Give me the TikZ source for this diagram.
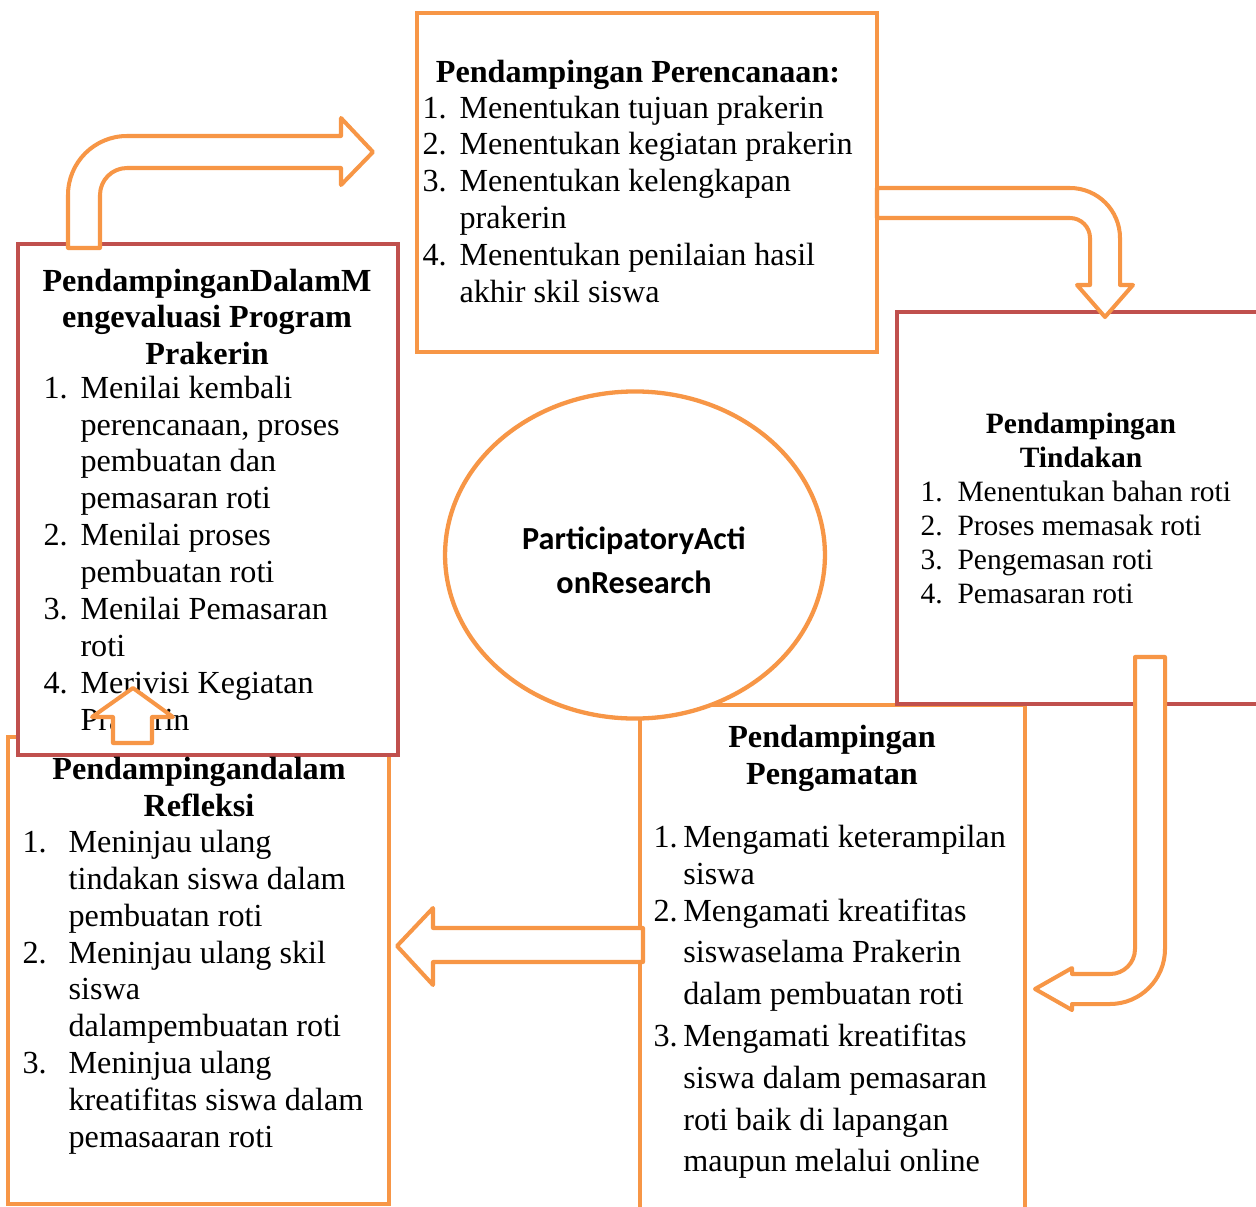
\documentclass[tikz,border=0pt]{standalone}
\usepackage{fontspec}
\setmainfont{Liberation Serif}
\newfontfamily\parfont{Carlito}
\usetikzlibrary{positioning, fit, shapes.geometric}

\definecolor{boxorange}{HTML}{F79646}
\definecolor{boxred}{HTML}{C0504D}

% title lines and numbered lists (first row is the baseline)
\newcommand{\titlelines}[1]{\begin{tabular}[t]{@{}c@{}}#1\end{tabular}}
\newcommand{\itemlist}[2]{\begin{tabular}[t]{@{}p{#1}@{}l@{}}#2\end{tabular}}

\begin{document}
\begin{tikzpicture}[
    x=0.373pt, y=-0.373pt,
    font=\fontsize{12pt}{13.8pt}\selectfont,
    framebox/.style={
        rectangle, inner sep=0pt, draw=#1, line width=1.6pt, fill=white
    },
    framebox/.default=boxorange,
    centerellipse/.style={
        ellipse, inner sep=0pt, draw=boxorange, line width=1.6pt, fill=white,
        minimum width=141.7pt, minimum height=122pt
    },
    titletext/.style={
        anchor=base, inner sep=0pt, font=\fontsize{12pt}{13.8pt}\selectfont\bfseries
    },
    listtext/.style={anchor=base west, inner sep=0pt},
    bentarrow/.style={draw=boxorange, line width=1.5pt, fill=white, line join=round}
]
\clip (0,0) rectangle (1256,1207);

% ---------------- Boxes ----------------
\node[framebox, fit={(8,737) (389,1204)}] (refl_box) {};
\node[framebox=boxred, fit={(18,244) (398,755)}] (eval_box) {};
\node[framebox, fit={(640,705) (1025,1260)}] (obs_box) {};
\node[framebox=boxred, fit={(897,312) (1300,704)}] (act_box) {};
\node[framebox, fit={(417,13) (877,352)}] (plan_box) {};
\node[centerellipse] (par_ellipse) at (635,555) {};

% ---------------- Centre ----------------
\node[titletext, font=\fontsize{12pt}{16.5pt}\selectfont\parfont\bfseries] (par_text) at (634,549)
    {\titlelines{ParticipatoryActi\\ onResearch}};

% ---------------- Perencanaan ----------------
\node[titletext] (plan_title) at (638,82) {Pendampingan Perencanaan:};
\node[listtext] (plan_list) at (422,118) {\itemlist{13.8pt}{%
    1. & Menentukan tujuan prakerin\\
    2. & Menentukan kegiatan prakerin\\
    3. & Menentukan kelengkapan\\
       & prakerin\\
    4. & Menentukan penilaian hasil\\
       & akhir skil siswa}};

% ---------------- Tindakan ----------------
\node[titletext, font=\fontsize{11pt}{12.7pt}\selectfont\bfseries] (act_title) at (1081,433)
    {\titlelines{Pendampingan\\ Tindakan}};
\node[listtext, font=\fontsize{11pt}{12.7pt}\selectfont] (act_list) at (920,501) {\itemlist{13.8pt}{%
    1. & Menentukan bahan roti\\
    2. & Proses memasak roti\\
    3. & Pengemasan roti\\
    4. & Pemasaran roti}};

% ---------------- Pengamatan ----------------
\node[titletext] (obs_title) at (832,747) {\titlelines{Pendampingan\\ Pengamatan}};
\node[listtext] (obs_list) at (653,847) {\itemlist{11.1pt}{%
    1. & Mengamati keterampilan\\
       & siswa\\
    2. & Mengamati kreatifitas\\[1.8pt]
       & siswaselama Prakerin\\[1.8pt]
       & dalam pembuatan roti\\[1.8pt]
    3. & Mengamati kreatifitas\\[1.8pt]
       & siswa dalam pemasaran\\[1.8pt]
       & roti baik di lapangan\\[1.8pt]
       & maupun melalui online}};

% ---------------- Refleksi ----------------
\node[titletext] (refl_title) at (199,779) {\titlelines{Pendampingandalam\\ Refleksi}};
\node[listtext] (refl_list) at (22,852) {\itemlist{17.2pt}{%
    1. & Meninjau ulang\\
       & tindakan siswa dalam\\
       & pembuatan roti\\
    2. & Meninjau ulang skil\\
       & siswa\\
       & dalampembuatan roti\\
    3. & Meninjua ulang\\
       & kreatifitas siswa dalam\\
       & pemasaaran roti}};

% ---------------- Evaluasi ----------------
\node[titletext] (eval_title) at (207,291)
    {\titlelines{PendampinganDalamM\\ engevaluasi Program\\ Prakerin}};
\node[listtext] (eval_list) at (43,398) {\itemlist{13.8pt}{%
    1. & Menilai kembali\\
       & perencanaan, proses\\
       & pembuatan dan\\
       & pemasaran roti\\
    2. & Menilai proses\\
       & pembuatan roti\\
    3. & Menilai Pemasaran\\
       & roti\\
    4. & Merivisi Kegiatan\\
       & Prakerin}};

% ---------------- Arrows ----------------
% evaluasi -> perencanaan
\draw[bentarrow] (68,248) -- (68,195) .. controls (68,162.4) and (94.4,136) .. (127,136)
    -- (341,136) -- (341,118) -- (373,152) -- (341,185) -- (341,168) -- (127,168)
    .. controls (112.1,168) and (100,180.1) .. (100,195) -- (100,248) -- cycle;
% perencanaan -> tindakan
\draw[bentarrow] (877,188) -- (1070,188) .. controls (1097.6,188) and (1120,210.4) .. (1120,238)
    -- (1120,285) -- (1133,285) -- (1105,317) -- (1077,285) -- (1090,285) -- (1090,238)
    .. controls (1090,227) and (1081,218) .. (1070,218) -- (877,218) -- cycle;
% tindakan -> pengamatan
\draw[bentarrow] (1135,657) -- (1165,657) -- (1165,949) .. controls (1165,979.4) and (1140.4,1004) .. (1110,1004)
    -- (1072,1004) -- (1072,1010) -- (1035,989) -- (1072,968) -- (1072,974) -- (1110,974)
    .. controls (1123.8,974) and (1135,962.8) .. (1135,949) -- cycle;
% pengamatan -> refleksi
\draw[bentarrow] (643,928) -- (433,928) -- (433,908) -- (397,946) -- (433,985) -- (433,962)
    -- (643,962) -- cycle;
% refleksi -> evaluasi
\draw[bentarrow] (113,743) -- (113,717) -- (92,717) -- (133,688) -- (173,717) -- (152,717)
    -- (152,743) -- cycle;

\end{tikzpicture}
\end{document}
